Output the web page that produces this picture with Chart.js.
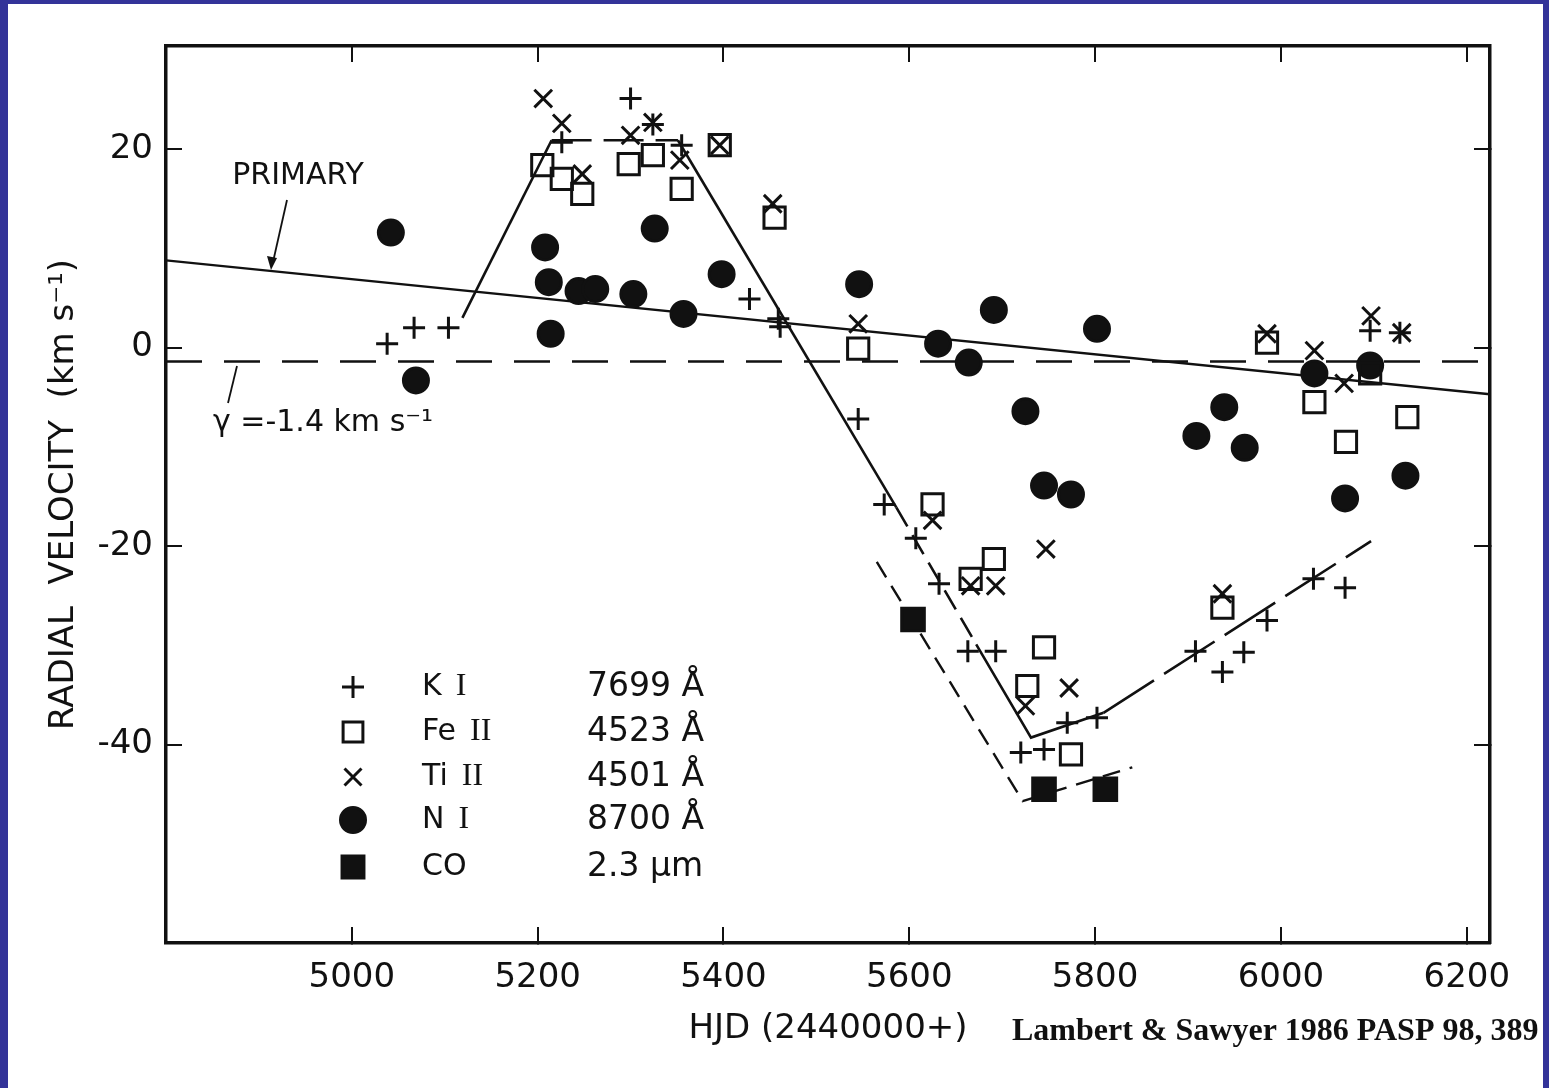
<!DOCTYPE html>
<html>
<head>
<meta charset="utf-8">
<title>Radial velocity curve</title>
<script src="https://cdn.jsdelivr.net/npm/chart.js@4.4.1/dist/chart.umd.min.js"></script>
<style>
  html, body { margin: 0; padding: 0; }
  body { width: 1549px; height: 1088px; background: #333399; position: relative; overflow: hidden; }
  #frame { position: absolute; left: 8px; top: 4px; width: 1535px; height: 1084px; background: #ffffff; }
  canvas { display: block; }
</style>
</head>
<body>
<div id="frame"><canvas id="rvChart" width="1535" height="1084"></canvas></div>
<script>
'use strict'

// tick values
var xTickValues = [5000, 5200, 5400, 5600, 5800, 6000, 6200];
var yTickValues = [20, 0, -20, -40];

// K I 7699 A
var kiHjd = [5038, 5067, 5104, 5226, 5300, 5324, 5355, 5428, 5459, 5461, 5545, 5573, 5607, 5632, 5663, 5693, 5720, 5745, 5770, 5802, 5908, 5937, 5960, 5985, 6035, 6069, 6096, 6128];
var kiVel = [0.4, 2.0, 2.0, 20.7, 25.1, 22.5, 20.4, 4.9, 2.9, 2.1, -7.2, -15.8, -19.2, -23.8, -30.6, -30.6, -40.8, -40.5, -37.8, -37.3, -30.6, -32.7, -30.7, -27.5, -23.3, -24.2, 1.7, 1.5];

// Fe II 4523 A
var feHjd = [5205, 5226, 5248, 5298, 5324, 5355, 5396, 5455, 5545, 5625, 5666, 5691, 5727, 5745, 5774, 5937, 5985, 6036, 6070, 6096, 6136];
var feVel = [18.4, 17.0, 15.5, 18.5, 19.4, 16.0, 20.4, 13.1, -0.1, -15.8, -23.3, -21.3, -34.1, -30.2, -41.0, -26.2, 0.5, -5.5, -9.5, -2.6, -7.0];

// Ti II 4501 A
var tiHjd = [5206, 5226, 5248, 5300, 5324, 5353, 5396, 5453, 5545, 5625, 5666, 5693, 5725, 5747, 5772, 5937, 5985, 6036, 6068, 6097, 6130];
var tiVel = [25.1, 22.6, 17.5, 21.4, 22.7, 18.9, 20.4, 14.5, 2.4, -17.4, -24.0, -24.0, -36.1, -20.3, -34.3, -24.8, 1.4, -0.3, -3.6, 3.2, 1.5];

// N I 8700 A
var niHjd = [5042, 5069, 5208, 5212, 5214, 5244, 5262, 5303, 5326, 5357, 5398, 5546, 5631, 5664, 5691, 5725, 5745, 5774, 5802, 5909, 5939, 5961, 6036, 6069, 6096, 6134];
var niVel = [11.6, -3.3, 10.1, 6.6, 1.4, 5.7, 5.9, 5.4, 12.0, 3.4, 7.4, 6.4, 0.4, -1.5, 3.8, -6.4, -13.9, -14.8, 1.9, -8.9, -6.0, -10.1, -2.6, -15.2, -1.8, -12.9];

// CO 2.3 um
var coHjd = [5604, 5745, 5811];
var coVel = [-27.4, -44.5, -44.5];

// hand drawn curves of the figure
var kiCurveHjd = [5119, 5215, 5351, 5586, 5672, 5731, 5809, 6097];
var kiCurveVel = [3.0, 20.9, 20.9, -16.1, -29.9, -39.3, -36.8, -19.5];
var coCurveHjd = [5565, 5722, 5840];
var coCurveVel = [-21.6, -45.7, -42.3];
var primaryHjd = [4800, 6225];
var primaryVel = [8.8, -4.7];
var gammaHjd = [4800, 6225];
var gammaVel = [-1.4, -1.4];

// legend text
var legendNames = ['K', 'Fe', 'Ti', 'N', 'CO'];
var legendIons = ['I', 'II', 'II', 'I', ''];
var legendLines = ['7699 Å', '4523 Å', '4501 Å', '8700 Å', '2.3 μm'];

// styles
var ink = '#111111';
var sansFont = '"DejaVu Sans", "Liberation Sans", sans-serif';
var kiSegmentDash = [[], [40, 12], [], [22, 10], [], [], [60, 12]];
var markerLine = 3;

function toPoints(xs, ys) {
    var out = [];
    for (var i = 0; i < xs.length; i++) {
        out.push({x: xs[i], y: ys[i]});
    }
    return out;
}

function markerSet(label, xs, ys, style, radius, filled) {
    return {
        label: label,
        data: toPoints(xs, ys),
        showLine: false,
        pointStyle: style,
        pointRadius: radius,
        pointBorderWidth: markerLine,
        pointBorderColor: ink,
        pointBackgroundColor: filled ? ink : 'rgba(0,0,0,0)',
        borderColor: ink,
        backgroundColor: filled ? ink : 'rgba(0,0,0,0)'
    };
}

function curveSet(label, xs, ys, dash, width) {
    return {
        label: label,
        data: toPoints(xs, ys),
        showLine: true,
        pointRadius: 0,
        borderColor: ink,
        borderWidth: width,
        borderDash: dash,
        fill: false,
        tension: 0
    };
}

var kiCurve = curveSet('K I fit', kiCurveHjd, kiCurveVel, [], 2.6);
kiCurve.segment = {
    borderDash: function (ctx) {
        return kiSegmentDash[ctx.p0DataIndex] || [];
    }
};

var datasets = [
    markerSet('K I', kiHjd, kiVel, 'cross', 11, false),
    markerSet('Fe II', feHjd, feVel, 'rect', 15, false),
    markerSet('Ti II', tiHjd, tiVel, 'crossRot', 12.5, false),
    markerSet('N I', niHjd, niVel, 'circle', 12.5, true),
    markerSet('CO', coHjd, coVel, 'rect', 16, true),
    kiCurve,
    curveSet('CO fit', coCurveHjd, coCurveVel, [18, 10], 2.4),
    curveSet('primary', primaryHjd, primaryVel, [], 2.4),
    curveSet('gamma', gammaHjd, gammaVel, [36, 22], 2.4)
];

function tickMarks() {
    return {display: true, drawOnChartArea: false, drawTicks: true, tickLength: -16, lineWidth: 2, color: ink};
}

function fixedTicks(values) {
    return function (scale) {
        scale.ticks = values.map(function (v) { return {value: v}; });
    };
}

// fixed box sizes so the plot frame sits where the figure has it
function boxSize(width, height) {
    return function (scale) {
        if (width !== null) scale.width = width;
        if (height !== null) scale.height = height;
        scale.paddingTop = 0;
        scale.paddingBottom = 0;
    };
}

function plainLabel(v) {
    return String(v);
}

// small marker for the legend
function legendMarker(ctx, style, radius, filled, x, y) {
    ctx.lineWidth = markerLine;
    ctx.strokeStyle = ink;
    ctx.fillStyle = filled ? ink : 'rgba(0,0,0,0)';
    if (Chart.helpers && Chart.helpers.drawPoint) {
        Chart.helpers.drawPoint(ctx, {pointStyle: style, radius: radius, rotation: 0, borderWidth: markerLine}, x, y);
        return;
    }
    ctx.beginPath();
    ctx.arc(x, y, radius, 0, Math.PI * 2);
    if (filled) ctx.fill();
    ctx.stroke();
}

var notesPlugin = {
    id: 'notes',
    afterDraw: function (chart) {
        var ctx = chart.ctx;
        ctx.save();
        ctx.fillStyle = ink;
        ctx.strokeStyle = ink;
        ctx.textBaseline = 'middle';

        // PRIMARY label and arrow
        ctx.font = '30px ' + sansFont;
        ctx.textAlign = 'center';
        ctx.fillText('PRIMARY', 290, 172);
        ctx.lineWidth = 1.8;
        ctx.beginPath();
        ctx.moveTo(279, 196);
        ctx.lineTo(265, 258);
        ctx.stroke();
        ctx.beginPath();
        ctx.moveTo(263, 266);
        ctx.lineTo(259, 252);
        ctx.lineTo(269, 254);
        ctx.closePath();
        ctx.fill();

        // gamma label
        ctx.textAlign = 'left';
        ctx.fillText('γ =-1.4 km s⁻¹', 205, 419);
        ctx.beginPath();
        ctx.moveTo(229, 362);
        ctx.lineTo(220, 399);
        ctx.stroke();

        // legend
        var rowY = [683, 728, 773, 816, 863];
        var styles = ['cross', 'rect', 'crossRot', 'circle', 'rect'];
        var radii = [11, 14, 12, 12.5, 15.5];
        var fills = [false, false, false, true, true];
        for (var i = 0; i < legendNames.length; i++) {
            ctx.save();
            legendMarker(ctx, styles[i], radii[i], fills[i], 345, rowY[i]);
            ctx.restore();
            ctx.fillStyle = ink;
            ctx.font = '30px ' + sansFont;
            ctx.textAlign = 'left';
            ctx.fillText(legendNames[i], 414, rowY[i]);
            var w = ctx.measureText(legendNames[i]).width;
            if (legendIons[i]) {
                ctx.font = '32px "Liberation Serif", "DejaVu Serif", serif';
                ctx.fillText(legendIons[i], 414 + w + 14, rowY[i]);
            }
            ctx.font = '33px ' + sansFont;
            ctx.fillText(legendLines[i], 579, rowY[i]);
        }

        // source
        ctx.font = 'bold 32px "Liberation Serif", "DejaVu Serif", serif';
        ctx.textAlign = 'left';
        ctx.fillText('Lambert & Sawyer 1986 PASP 98, 389', 1004, 1028);
        ctx.restore();
    }
};

window.onload = function () {
    var ctx = document.getElementById('rvChart');
    new Chart(ctx, {
        type: 'scatter',
        data: {datasets: datasets},
        plugins: [notesPlugin],
        options: {
            responsive: false,
            animation: false,
            devicePixelRatio: 1,
            events: [],
            layout: {padding: 0},
            plugins: {
                legend: {display: false},
                tooltip: {enabled: false}
            },
            scales: {
                x: {
                    type: 'linear',
                    position: 'bottom',
                    min: 4800,
                    max: 6225,
                    afterBuildTicks: fixedTicks(xTickValues),
                    afterFit: boxSize(null, 145),
                    grid: tickMarks(),
                    border: {display: true, color: ink, width: 3.5},
                    ticks: {
                        color: ink,
                        padding: 31,
                        autoSkip: false,
                        maxRotation: 0,
                        callback: plainLabel,
                        font: {family: sansFont, size: 34}
                    },
                    title: {
                        display: true,
                        text: 'HJD (2440000+)',
                        color: ink,
                        font: {family: sansFont, size: 34},
                        padding: {top: 0, bottom: 38}
                    }
                },
                x2: {
                    type: 'linear',
                    axis: 'x',
                    position: 'top',
                    min: 4800,
                    max: 6225,
                    afterBuildTicks: fixedTicks(xTickValues),
                    afterFit: boxSize(null, 42),
                    grid: tickMarks(),
                    border: {display: true, color: ink, width: 3.5},
                    ticks: {display: false}
                },
                y: {
                    type: 'linear',
                    position: 'left',
                    min: -60,
                    max: 30.4,
                    afterBuildTicks: fixedTicks(yTickValues),
                    afterFit: boxSize(158, null),
                    grid: tickMarks(),
                    border: {display: true, color: ink, width: 3.5},
                    ticks: {
                        color: ink,
                        padding: 29,
                        autoSkip: false,
                        callback: plainLabel,
                        font: {family: sansFont, size: 34}
                    },
                    title: {
                        display: true,
                        text: 'RADIAL  VELOCITY  (km s⁻¹)',
                        color: ink,
                        font: {family: sansFont, size: 34},
                        padding: {top: 36, bottom: 0}
                    }
                },
                y2: {
                    type: 'linear',
                    axis: 'y',
                    position: 'right',
                    min: -60,
                    max: 30.4,
                    afterBuildTicks: fixedTicks(yTickValues),
                    afterFit: boxSize(53, null),
                    grid: tickMarks(),
                    border: {display: true, color: ink, width: 3.5},
                    ticks: {display: false}
                }
            }
        }
    });
};
</script>
</body>
</html>
